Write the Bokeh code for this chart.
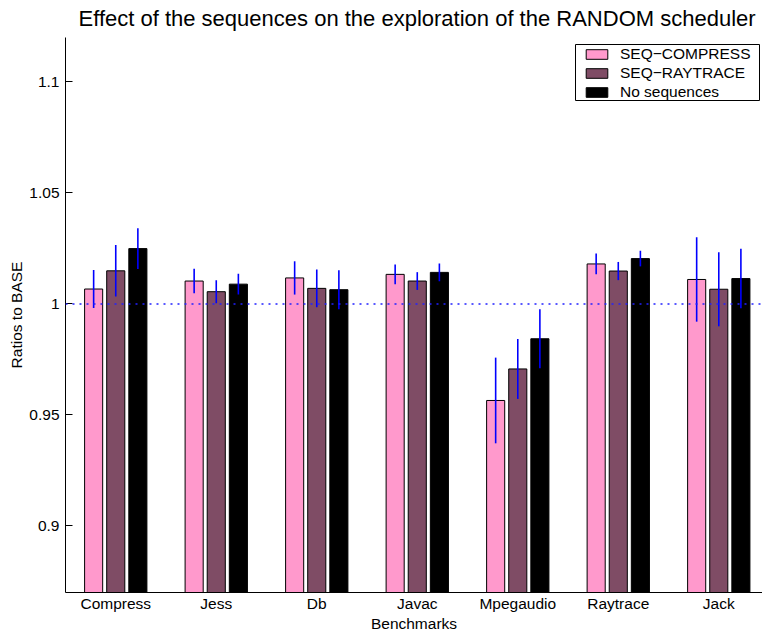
from bokeh.plotting import figure
from bokeh.models import (ColumnDataSource, FixedTicker, Range1d, Span, Legend,
                          LegendItem, BoxAnnotation)
from bokeh.embed import file_html
from bokeh.resources import INLINE

# Benchmarks and mean ratios (with error half-widths) for each configuration
benchmarks = ["Compress", "Jess", "Db", "Javac", "Mpegaudio", "Raytrace", "Jack"]
series_names = ["SEQ\u2212COMPRESS", "SEQ\u2212RAYTRACE", "No sequences"]
seq_compress = [1.0067, 1.0103, 1.0117, 1.0133, 0.9565, 1.0180, 1.0110]
seq_compress_err = [0.0086, 0.0055, 0.0075, 0.0044, 0.0193, 0.0047, 0.0190]
seq_raytrace = [1.0149, 1.0055, 1.0070, 1.0103, 0.9707, 1.0148, 1.0066]
seq_raytrace_err = [0.0116, 0.0052, 0.0085, 0.0040, 0.0135, 0.0041, 0.0167]
no_sequences = [1.0249, 1.0089, 1.0064, 1.0142, 0.9843, 1.0204, 1.0114]
no_sequences_err = [0.0092, 0.0047, 0.0088, 0.0040, 0.0133, 0.0035, 0.0134]
y_ticks = [0.9, 0.95, 1.0, 1.05, 1.1]
y_tick_labels = ["0.9", "0.95", "1", "1.05", "1.1"]

FONT = "Liberation Sans"
colors = ["#FF99CC", "#7F4C65", "#000000"]
offsets = [-0.22, 0.0, 0.22]
bar_width = 0.18

p = figure(width=762, height=634, output_backend="svg", toolbar_location=None,
           x_range=Range1d(0.5, 7.435), y_range=Range1d(0.87, 1.12),
           min_border_left=65, min_border_right=0, min_border_top=37,
           min_border_bottom=42,
           title="Effect of the sequences on the exploration of the RANDOM scheduler")
p.outline_line_color = None
p.grid.visible = False
p.background_fill_color = "white"
p.border_fill_color = "white"

p.title.text_font = FONT
p.title.text_font_size = "22px"
p.title.text_font_style = "normal"
p.title.text_color = "black"
p.title.align = "left"
p.title.offset = 13
p.title.vertical_align = "top"
p.title.standoff = 10

# reference line at ratio 1
p.add_layout(Span(location=1.0, dimension="width", line_color="#2222FF",
                  line_dash="2 5", line_width=1.5))

xs = list(range(1, len(benchmarks) + 1))
all_vals = [seq_compress, seq_raytrace, no_sequences]
all_errs = [seq_compress_err, seq_raytrace_err, no_sequences_err]
renderers = []
for vals, errs, off, col in zip(all_vals, all_errs, offsets, colors):
    src = ColumnDataSource(dict(
        x=[x + off for x in xs], top=vals,
        lo=[v - e for v, e in zip(vals, errs)],
        hi=[v + e for v, e in zip(vals, errs)]))
    r = p.vbar(x="x", top="top", bottom=0, width=bar_width, source=src,
               fill_color=col, line_color="black", line_width=1)
    p.segment(x0="x", x1="x", y0="lo", y1="hi", source=src,
              line_color="#0000FF", line_width=1.6)
    renderers.append(r)

# legend frame, drawn separately so the entries can sit close to its edges
p.add_layout(BoxAnnotation(left=510, right=694, bottom=492, top=548,
                           left_units="screen", right_units="screen",
                           bottom_units="screen", top_units="screen",
                           fill_color="white", fill_alpha=1,
                           line_color="black", line_width=1, line_alpha=1))

legend = Legend(items=[LegendItem(label=n, renderers=[r])
                       for n, r in zip(series_names, renderers)],
                location=(518, 491))
legend.label_text_font = FONT
legend.label_text_font_size = "15.5px"
legend.label_text_color = "black"
legend.glyph_width = 27
legend.glyph_height = 12
legend.label_height = 12
legend.label_standoff = 10
legend.spacing = 1
legend.padding = 1
legend.margin = 0
legend.border_line_color = None
legend.background_fill_alpha = 0
p.add_layout(legend)

# y axis
ya = p.yaxis[0]
ya.ticker = FixedTicker(ticks=y_ticks)
ya.major_label_overrides = dict(zip(y_ticks, y_tick_labels))
ya.axis_label = "Ratios to BASE"
ya.minor_tick_line_color = None
ya.major_tick_in = 7
ya.major_tick_out = 0
ya.major_label_standoff = 6
ya.axis_label_standoff = 1
ya.axis_line_color = "black"
ya.major_tick_line_color = "black"

# x axis
xa = p.xaxis[0]
xa.ticker = FixedTicker(ticks=xs)
xa.major_label_overrides = dict(zip(xs, benchmarks))
xa.axis_label = "Benchmarks"
xa.minor_tick_line_color = None
xa.major_tick_in = 0
xa.major_tick_out = 0
xa.major_label_standoff = 2
xa.axis_label_standoff = 0
xa.axis_line_color = "black"

for ax in (xa, ya):
    ax.major_label_text_font = FONT
    ax.major_label_text_font_size = "15.5px"
    ax.major_label_text_color = "black"
    ax.axis_label_text_font = FONT
    ax.axis_label_text_font_size = "15.5px"
    ax.axis_label_text_font_style = "normal"
    ax.axis_label_text_color = "black"

open("out.html", "w").write(file_html(p, INLINE))
